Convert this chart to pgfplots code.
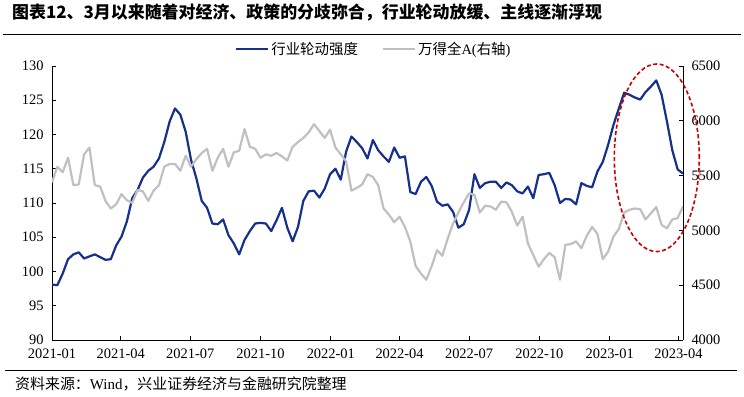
\documentclass[border=0pt]{standalone}
\usepackage{pgfplots}
\pgfplotsset{compat=1.18}
\usepackage{pgfplotstable}
\usepackage{fontspec}
\setmainfont{Liberation Serif}
\newfontfamily\cjk{Noto Sans CJK SC}
\definecolor{navy}{RGB}{23,48,140}
\definecolor{lgray}{RGB}{192,192,192}
\definecolor{dred}{RGB}{200,0,0}

\pgfplotstableread{
w v
0 98.1
1 98.0
2 99.7
3 101.8
4 102.5
5 102.8
6 101.9
7 102.2
8 102.5
9 102.1
10 101.7
11 101.8
12 103.8
13 105.1
14 107.3
15 110.7
16 111.9
17 113.7
18 114.7
19 115.3
20 116.5
21 118.9
22 121.9
23 123.8
24 122.9
25 120.4
26 116.3
27 113.6
28 110.3
29 109.3
30 107.0
31 106.9
32 107.6
33 105.3
34 104.1
35 102.5
36 104.6
37 105.9
38 107.0
39 107.1
40 107.0
41 105.9
42 107.5
43 109.3
44 106.4
45 104.4
46 106.5
47 110.3
48 111.7
49 111.8
50 110.8
51 112.1
52 114.2
53 115.0
54 113.4
55 117.5
56 119.7
57 118.9
58 118.0
59 116.5
60 119.2
61 117.7
62 116.8
63 116.0
64 118.1
65 116.6
66 116.8
67 111.6
68 111.3
69 113.1
70 113.8
71 112.5
72 110.2
73 109.6
74 109.8
75 108.7
76 106.4
77 106.9
78 109.0
79 114.2
80 112.2
81 112.9
82 113.1
83 113.1
84 112.2
85 113.0
86 112.6
87 111.7
88 111.4
89 112.4
90 110.7
91 114.1
92 114.2
93 114.4
94 112.6
95 110.0
96 110.6
97 110.5
98 109.8
99 112.9
100 112.5
101 112.3
102 114.6
103 116.0
104 118.5
105 121.4
106 123.8
107 126.1
108 125.8
109 125.4
110 125.1
111 126.2
112 127.0
113 127.9
114 125.8
115 121.9
116 117.7
117 114.9
118 114.3
}\rotation

\pgfplotstableread{
w v
0 5438
1 5581
2 5531
3 5663
4 5413
5 5419
6 5694
7 5756
8 5413
9 5400
10 5269
11 5200
12 5238
13 5331
14 5275
15 5250
16 5369
17 5356
18 5269
19 5363
20 5413
21 5581
22 5606
23 5606
24 5544
25 5681
26 5581
27 5650
28 5706
29 5744
30 5544
31 5663
32 5744
33 5581
34 5713
35 5725
36 5925
37 5763
38 5744
39 5663
40 5694
41 5681
42 5706
43 5675
44 5638
45 5763
46 5806
47 5844
48 5894
49 5969
50 5906
51 5844
52 5919
53 5756
54 5694
55 5631
56 5363
57 5388
58 5419
59 5513
60 5488
61 5413
62 5200
63 5144
64 5075
65 5125
66 5031
67 4900
68 4675
69 4606
70 4550
71 4675
72 4819
73 4769
74 4925
75 5063
76 5163
77 5256
78 5338
79 5325
80 5163
81 5225
82 5219
83 5188
84 5263
85 5256
86 5169
87 5044
88 5125
89 4881
90 4775
91 4669
92 4738
93 4794
94 4756
95 4550
96 4869
97 4875
98 4900
99 4838
100 4950
101 5031
102 4969
103 4738
104 4806
105 4944
106 5013
107 5163
108 5188
109 5200
110 5194
111 5100
112 5156
113 5213
114 5050
115 5019
116 5100
117 5113
118 5219
}\wind

\begin{document}
\begin{tikzpicture}
\path[use as bounding box] (0bp,0bp) rectangle (744bp,397bp);
\pgfplotsset{
  base/.style={
    at={(52bp,57bp)}, anchor=south west,
    width=631bp, height=274bp, scale only axis,
    xmin=0, xmax=826,
    tick align=inside, major tick length=4bp,
    tick style={black, line width=0.8bp},
    axis line style={black, line width=0.8bp},
    tick label style={font=\fontsize{14.5}{16}\selectfont},
    /pgf/number format/assume math mode=true,
    /pgf/number format/1000 sep={},
  }
}
\begin{axis}[base,
  ymin=90, ymax=130, ytick={90,95,...,130},
  axis x line*=bottom, axis y line*=left,
  xtick={0,90,181,273,365,455,546,638,730,820},
  xticklabels={2021-01,2021-04,2021-07,2021-10,2022-01,2022-04,2022-07,2022-10,2023-01,2023-04},
  xticklabel style={yshift=-5bp},
  yticklabel style={xshift=-5bp},
]
\addplot[navy, line width=2.2bp, line join=round] table[x expr=\thisrow{w}*7, y=v] {\rotation};
\end{axis}
\begin{axis}[base,
  ymin=4000, ymax=6500, ytick={4000,4500,...,6500},
  axis y line*=right, axis x line=none,
  yticklabel style={xshift=5bp},
  legend style={draw=none, fill=none, at={(0.51,1)}, anchor=center, yshift=17bp,
    font=\fontsize{14.5}{16}\selectfont, legend columns=2,
    /tikz/every even column/.append style={column sep=22bp}},
  legend image code/.code={\draw[#1] (0bp,0bp) -- (32bp,0bp);},
]
\addlegendimage{navy, line width=2.2bp}
\addlegendentry{{\cjk 行业轮动强度}}
\addplot[lgray, line width=2.2bp, line join=round] table[x expr=\thisrow{w}*7, y=v] {\wind};
\addlegendentry{{\cjk 万得全}A({\cjk 右轴})}
\end{axis}
\draw[dred, line width=1.6bp, dash pattern=on 4bp off 2.5bp] (656.8bp,239.2bp) ellipse [x radius=42.5bp, y radius=93.8bp];
\node[anchor=west, inner sep=0pt] at (12bp,384bp) {\cjk\bfseries\fontsize{17}{20}\selectfont 图表12、3月以来随着对经济、政策的分歧弥合，行业轮动放缓、主线逐渐浮现};
\draw[black, line width=1bp] (3bp,362bp) -- (741bp,362bp);
\draw[black, line width=1bp] (5bp,26bp) -- (737bp,26bp);
\node[anchor=west, inner sep=0pt] at (15bp,13bp) {\fontsize{15}{17}\selectfont{\cjk 资料来源：}Wind{\cjk ，兴业证券经济与金融研究院整理}};
\end{tikzpicture}
\end{document}
